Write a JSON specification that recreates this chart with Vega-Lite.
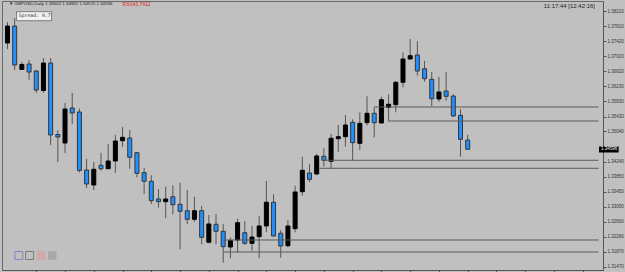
{
  "$schema": "https://vega.github.io/schema/vega-lite/v6.json",
  "width": 601,
  "height": 269,
  "autosize": {"type": "none"},
  "padding": {"left": 2, "top": 1, "right": 22, "bottom": 2},
  "background": "#c0c0c0",
  "config": {
    "view": {"stroke": "#6a6a6a", "strokeWidth": 1, "fill": "#c0c0c0"},
    "font": "Liberation Sans",
    "axis": {"labelOverlap": false, "labelFlush": false, "labelBound": false, "grid": false}
  },
  "datasets": {
    "candles": [
      {"i":0,"open":1.37368,"high":1.37921,"low":1.37210,"close":1.37815},
      {"i":1,"open":1.37815,"high":1.38026,"low":1.36657,"close":1.36789},
      {"i":2,"open":1.36670,"high":1.36868,"low":1.36657,"close":1.36802},
      {"i":3,"open":1.36815,"high":1.36920,"low":1.36394,"close":1.36604},
      {"i":4,"open":1.36631,"high":1.36657,"low":1.36052,"close":1.36130},
      {"i":5,"open":1.36117,"high":1.36973,"low":1.36052,"close":1.36841},
      {"i":6,"open":1.36841,"high":1.36973,"low":1.34682,"close":1.34946},
      {"i":7,"open":1.34959,"high":1.35077,"low":1.34235,"close":1.34893},
      {"i":8,"open":1.34735,"high":1.35788,"low":1.34472,"close":1.35630},
      {"i":9,"open":1.35657,"high":1.36052,"low":1.35235,"close":1.35525},
      {"i":10,"open":1.35551,"high":1.35643,"low":1.33958,"close":1.34011},
      {"i":11,"open":1.34024,"high":1.34314,"low":1.33550,"close":1.33656},
      {"i":12,"open":1.33629,"high":1.34235,"low":1.33498,"close":1.34043},
      {"i":13,"open":1.34148,"high":1.34480,"low":1.34006,"close":1.34059},
      {"i":14,"open":1.34059,"high":1.34709,"low":1.34043,"close":1.34261},
      {"i":15,"open":1.34261,"high":1.34946,"low":1.33945,"close":1.34788},
      {"i":16,"open":1.34796,"high":1.35156,"low":1.34630,"close":1.34885},
      {"i":17,"open":1.34867,"high":1.35077,"low":1.34059,"close":1.34359},
      {"i":18,"open":1.34480,"high":1.34498,"low":1.33832,"close":1.33937},
      {"i":19,"open":1.33953,"high":1.34077,"low":1.33392,"close":1.33727},
      {"i":20,"open":1.33727,"high":1.33885,"low":1.33129,"close":1.33216},
      {"i":21,"open":1.33261,"high":1.33516,"low":1.33032,"close":1.33190},
      {"i":22,"open":1.33190,"high":1.33585,"low":1.32753,"close":1.33261},
      {"i":23,"open":1.33321,"high":1.33621,"low":1.32858,"close":1.33111},
      {"i":24,"open":1.33121,"high":1.33690,"low":1.31936,"close":1.32937},
      {"i":25,"open":1.32953,"high":1.33498,"low":1.32595,"close":1.32726},
      {"i":26,"open":1.32726,"high":1.33321,"low":1.32663,"close":1.32953},
      {"i":27,"open":1.32953,"high":1.33076,"low":1.32068,"close":1.32252},
      {"i":28,"open":1.32121,"high":1.32839,"low":1.32094,"close":1.32603},
      {"i":29,"open":1.32595,"high":1.32866,"low":1.32068,"close":1.32410},
      {"i":30,"open":1.32410,"high":1.32603,"low":1.31584,"close":1.32005},
      {"i":31,"open":1.31997,"high":1.32252,"low":1.31699,"close":1.32163},
      {"i":32,"open":1.32181,"high":1.32742,"low":1.31857,"close":1.32637},
      {"i":33,"open":1.32373,"high":1.32681,"low":1.32050,"close":1.32094},
      {"i":34,"open":1.32094,"high":1.32550,"low":1.31900,"close":1.32260},
      {"i":35,"open":1.32268,"high":1.32813,"low":1.31699,"close":1.32550},
      {"i":36,"open":1.32550,"high":1.33735,"low":1.32384,"close":1.33174},
      {"i":37,"open":1.33174,"high":1.33384,"low":1.32270,"close":1.32287},
      {"i":38,"open":1.32358,"high":1.32445,"low":1.31715,"close":1.32023},
      {"i":39,"open":1.32031,"high":1.32708,"low":1.31989,"close":1.32550},
      {"i":40,"open":1.32479,"high":1.33611,"low":1.32384,"close":1.33445},
      {"i":41,"open":1.33453,"high":1.34374,"low":1.33348,"close":1.34016},
      {"i":42,"open":1.33945,"high":1.34182,"low":1.33708,"close":1.33779},
      {"i":43,"open":1.33919,"high":1.34446,"low":1.33893,"close":1.34393},
      {"i":44,"open":1.34385,"high":1.34596,"low":1.34111,"close":1.34280},
      {"i":45,"open":1.34253,"high":1.34972,"low":1.34051,"close":1.34859},
      {"i":46,"open":1.34848,"high":1.35209,"low":1.34506,"close":1.34901},
      {"i":47,"open":1.34901,"high":1.35472,"low":1.34638,"close":1.35209},
      {"i":48,"open":1.35280,"high":1.35359,"low":1.34269,"close":1.34743},
      {"i":49,"open":1.34727,"high":1.35543,"low":1.34551,"close":1.35254},
      {"i":50,"open":1.35270,"high":1.35965,"low":1.35201,"close":1.35517},
      {"i":51,"open":1.35517,"high":1.35675,"low":1.34885,"close":1.35270},
      {"i":52,"open":1.35262,"high":1.35954,"low":1.35254,"close":1.35875},
      {"i":53,"open":1.35675,"high":1.36017,"low":1.35306,"close":1.35754},
      {"i":54,"open":1.35744,"high":1.36367,"low":1.35543,"close":1.36333},
      {"i":55,"open":1.36333,"high":1.37123,"low":1.36202,"close":1.36947},
      {"i":56,"open":1.36947,"high":1.37473,"low":1.36933,"close":1.37034},
      {"i":57,"open":1.37052,"high":1.37421,"low":1.36507,"close":1.36631},
      {"i":58,"open":1.36691,"high":1.36894,"low":1.36349,"close":1.36428},
      {"i":59,"open":1.36412,"high":1.36604,"low":1.35709,"close":1.35901},
      {"i":60,"open":1.35894,"high":1.36473,"low":1.35822,"close":1.36078},
      {"i":61,"open":1.36104,"high":1.36604,"low":1.35849,"close":1.35965},
      {"i":62,"open":1.35972,"high":1.36017,"low":1.35433,"close":1.35446},
      {"i":63,"open":1.35464,"high":1.35630,"low":1.34374,"close":1.34832},
      {"i":64,"open":1.34814,"high":1.34954,"low":1.34565,"close":1.34569}
    ],
    "levels": [
      {"price":1.35683,"from":51},
      {"price":1.35314,"from":53},
      {"price":1.34280,"from":43.8},
      {"price":1.34069,"from":43.4},
      {"price":1.32181,"from":30},
      {"price":1.31865,"from":30}
    ]
  },
  "layer": [
    {
      "data": {"name": "candles"},
      "mark": {"type": "rule", "color": "#555555", "strokeWidth": 1, "clip": true},
      "encoding": {
        "x": {
          "field": "i", "type": "quantitative",
          "scale": {"domain": [-0.0684, 82.12], "nice": false, "zero": false},
          "axis": {"orient": "bottom", "values": [4,8,12,16,20,24,28,32,36,40,44,48,52,56,60,64,68,72,76,80], "tickCount": 40, "labels": false, "tickSize": 3, "tickColor": "#555555", "domainColor": "#555555", "grid": false, "title": null}
        },
        "y": {
          "field": "low", "type": "quantitative",
          "scale": {"domain": [1.31391, 1.38474], "nice": false, "zero": false},
          "axis": {"orient": "right", "values": [1.3821,1.3781,1.3742,1.3702,1.3662,1.3623,1.3583,1.3543,1.3504,1.3424,1.3385,1.3345,1.3305,1.3266,1.3226,1.3187,1.3147], "tickCount": 40, "format": ".5f", "labelFontSize": 4.5, "labelColor": "#333333", "labelPadding": 1, "tickSize": 3, "tickColor": "#555555", "domainColor": "#555555", "grid": false, "title": null, "labelOverlap": false, "labelFlush": false, "labelBound": false}
        },
        "y2": {"field": "high"}
      }
    },
    {
      "data": {"name": "candles"},
      "mark": {"type": "bar", "size": 4, "strokeWidth": 1, "clip": true},
      "encoding": {
        "x": {"field": "i", "type": "quantitative"},
        "y": {"field": "open", "type": "quantitative"},
        "y2": {"field": "close"},
        "color": {"condition": {"test": "datum.close > datum.open", "value": "#000000"}, "value": "#1e90ff"},
        "stroke": {"condition": {"test": "datum.close > datum.open", "value": "#000000"}, "value": "#353535"}
      }
    },
    {
      "data": {"name": "levels"},
      "mark": {"type": "rule", "color": "#5a5a5a", "strokeWidth": 1, "clip": true},
      "encoding": {
        "x": {"field": "from", "type": "quantitative"},
        "x2": {"datum": 82.2},
        "y": {"field": "price", "type": "quantitative"}
      }
    },
    {
      "data": {"values": [{"t": "▼ GBPUSD,Daily 1.34602 1.34962 1.34570 1.34596"}]},
      "mark": {"type": "text", "align": "left", "baseline": "middle", "fontSize": 4.4, "color": "#222222"},
      "encoding": {"x": {"datum": 0.2, "type": "quantitative"}, "y": {"datum": 1.38382, "type": "quantitative"}, "text": {"field": "t"}}
    },
    {
      "data": {"values": [{"t": "RSI(43.7412"}]},
      "mark": {"type": "text", "align": "left", "baseline": "middle", "fontSize": 5, "color": "#e02020"},
      "encoding": {"x": {"datum": 16.0, "type": "quantitative"}, "y": {"datum": 1.38382, "type": "quantitative"}, "text": {"field": "t"}}
    },
    {
      "data": {"values": [{"t": "11:17:44 [12:42:16]"}]},
      "mark": {"type": "text", "align": "right", "baseline": "middle", "fontSize": 6, "color": "#222222"},
      "encoding": {"x": {"datum": 81.71, "type": "quantitative"}, "y": {"datum": 1.38342, "type": "quantitative"}, "text": {"field": "t"}}
    },
    {
      "data": {"values": [{}]},
      "mark": {"type": "rect", "fill": "#f2f2f2", "stroke": "#666666", "strokeWidth": 0.8},
      "encoding": {"x": {"datum": 1.258, "type": "quantitative"}, "x2": {"datum": 6.126}, "y": {"datum": 1.38192, "type": "quantitative"}, "y2": {"datum": 1.37955}}
    },
    {
      "data": {"values": [{"t": "Spread: 0.7"}]},
      "mark": {"type": "text", "align": "left", "baseline": "middle", "fontSize": 4.8, "font": "DejaVu Sans Mono", "color": "#333333"},
      "encoding": {"x": {"datum": 1.573, "type": "quantitative"}, "y": {"datum": 1.38073, "type": "quantitative"}, "text": {"field": "t"}}
    },
    {
      "data": {"values": [{}]},
      "mark": {"type": "point", "shape": "square", "size": 64, "filled": false, "stroke": "#6a6acc", "strokeWidth": 1},
      "encoding": {"x": {"datum": 1.573, "type": "quantitative"}, "y": {"datum": 1.31773, "type": "quantitative"}}
    },
    {
      "data": {"values": [{}]},
      "mark": {"type": "point", "shape": "square", "size": 64, "filled": false, "stroke": "#606060", "strokeWidth": 1},
      "encoding": {"x": {"datum": 3.077, "type": "quantitative"}, "y": {"datum": 1.31773, "type": "quantitative"}}
    },
    {
      "data": {"values": [{}]},
      "mark": {"type": "point", "shape": "square", "size": 72, "filled": true, "color": "#d2a8a8", "opacity": 1},
      "encoding": {"x": {"datum": 4.677, "type": "quantitative"}, "y": {"datum": 1.31773, "type": "quantitative"}}
    },
    {
      "data": {"values": [{}]},
      "mark": {"type": "point", "shape": "square", "size": 72, "filled": true, "color": "#a9a9a9", "opacity": 1},
      "encoding": {"x": {"datum": 6.222, "type": "quantitative"}, "y": {"datum": 1.31773, "type": "quantitative"}}
    },
    {
      "data": {"values": [{}]},
      "mark": {"type": "rect", "fill": "#000000"},
      "encoding": {"x": {"datum": 82.256, "type": "quantitative"}, "x2": {"datum": 84.99}, "y": {"datum": 1.34643, "type": "quantitative"}, "y2": {"datum": 1.34485}}
    },
    {
      "data": {"values": [{"t": "1.34596"}]},
      "mark": {"type": "text", "align": "left", "baseline": "middle", "fontSize": 4.5, "color": "#ffffff"},
      "encoding": {"x": {"datum": 82.53, "type": "quantitative"}, "y": {"datum": 1.34564, "type": "quantitative"}, "text": {"field": "t"}}
    }
  ]
}
